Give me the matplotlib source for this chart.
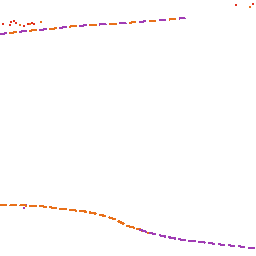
import matplotlib
matplotlib.use("Agg")
import matplotlib.pyplot as plt

# Upper curve (x, height)
top_x = [0, 10, 25, 50, 75, 100, 125, 150, 170, 185]
top_y = [222, 223, 225, 227, 230, 231.5, 233, 235, 236.5, 238]

# Lower curve
bot_x = [0, 25, 40, 55, 70, 85, 95, 105, 115, 128, 140, 150, 165, 180, 200, 220, 240, 256]
bot_y = [51, 50.5, 50, 48, 46, 44.5, 42.5, 40, 36.5, 30, 26.5, 23, 19.5, 16.5, 14, 11.5, 9.5, 7.5]

# Scattered points
red_x = [3, 11, 14, 16, 10, 24, 28, 32, 34, 236, 253]
red_y = [232, 234, 235, 233, 231, 230, 232, 233, 232, 251, 252]
orange_x = [20, 30, 41, 250, 131, 134, 137, 140, 142, 148]
orange_y = [231, 232, 234, 249, 29, 28, 27, 26, 25, 23]
purple_x = [23, 24, 26]
purple_y = [51, 48, 51]

ORANGE = "#e8701a"
PURPLE = "#a03cb4"
RED = "#e0301e"

fig = plt.figure(figsize=(2.56, 2.56), dpi=100)
ax = fig.add_axes([0, 0, 1, 1])
ax.set_xlim(0, 256)
ax.set_ylim(0, 256)
ax.axis("off")

ax.plot(top_x, top_y, color=ORANGE, lw=1.0, dashes=(4.5, 2.5), antialiased=False)
ax.plot(top_x, top_y, color=PURPLE, lw=1.0, dashes=(4.5, 9.5), antialiased=False)

n = 11
ax.plot(bot_x[:n], bot_y[:n], color=ORANGE, lw=1.0, dashes=(5, 2.2), antialiased=False)
ax.plot(bot_x[n - 1:], bot_y[n - 1:], color=PURPLE, lw=1.0, dashes=(4.5, 2.2), antialiased=False)

ax.scatter(red_x, red_y, s=2, color=RED, marker="s", linewidths=0)
ax.scatter(orange_x, orange_y, s=2, color=ORANGE, marker="s", linewidths=0)
ax.scatter(purple_x, purple_y, s=1.5, color=PURPLE, marker="s", linewidths=0)

fig.savefig("out.png", dpi=100)
